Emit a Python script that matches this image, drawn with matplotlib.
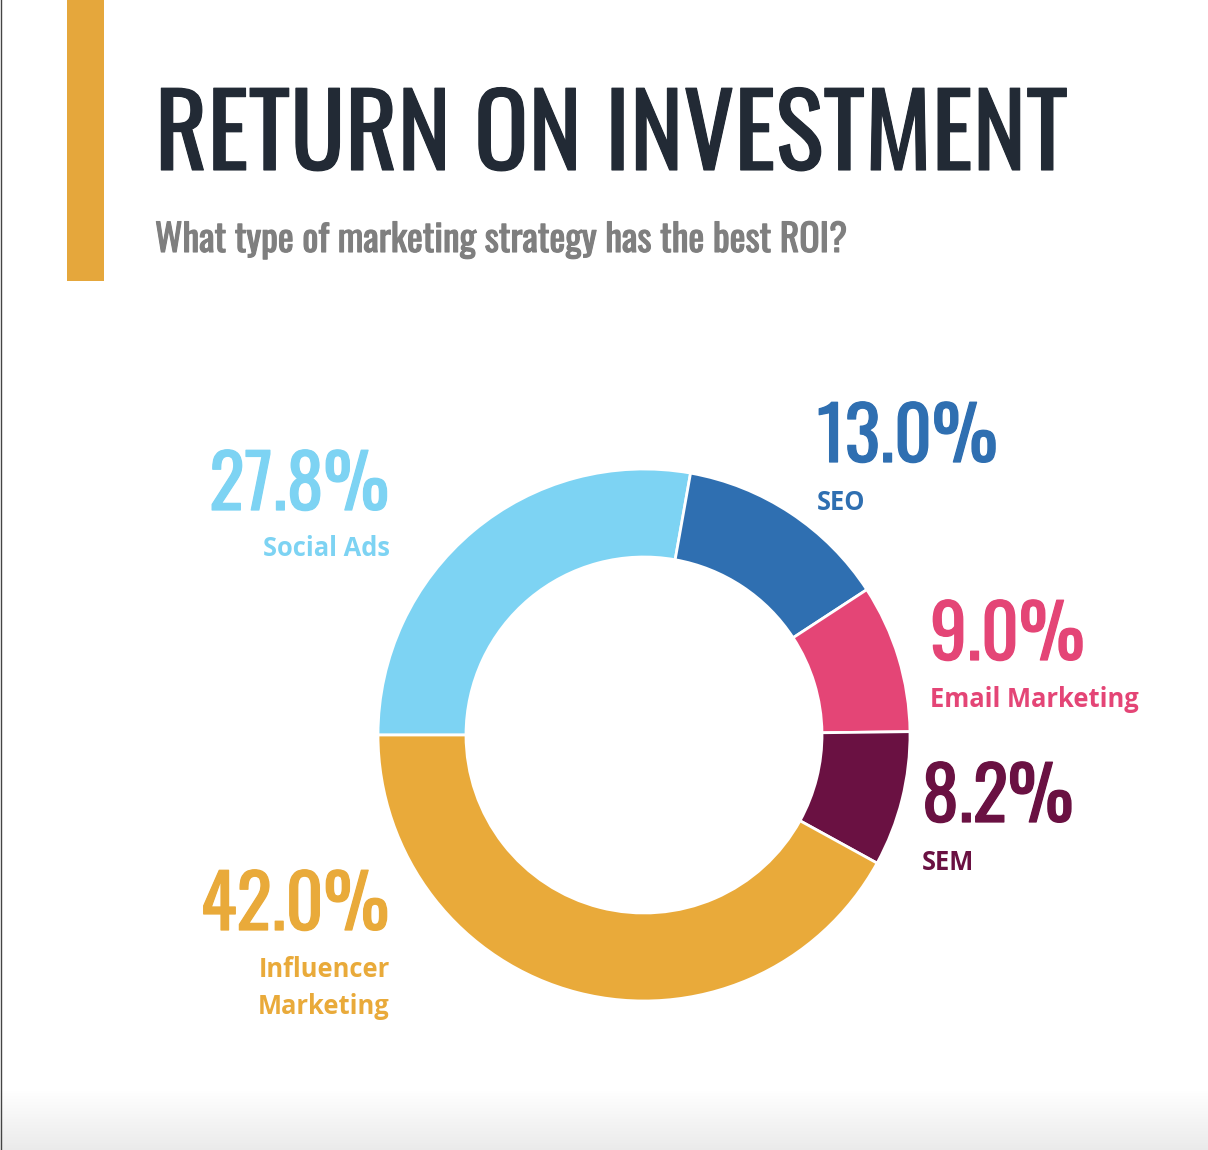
import numpy as np
import matplotlib
matplotlib.use('Agg')
import matplotlib.pyplot as plt
import matplotlib.patheffects as pe
from matplotlib import font_manager

# data
categories = ['Social Ads', 'SEO', 'Email Marketing', 'SEM', 'Influencer Marketing']
shares = [27.8, 13.0, 9.0, 8.2, 42.0]
colors = ['#7dd3f3', '#2f6fb1', '#e44576', '#6a1142', '#e9aa3a']
pct_labels = ['27.8%', '13.0%', '9.0%', '8.2%', '42.0%']
name_labels = ['Social Ads', 'SEO', 'Email Marketing', 'SEM', 'Influencer\nMarketing']

W, H = 1208, 1150
DPI = 100

# pick fonts that exist here
installed = {f.name for f in font_manager.fontManager.ttflist}
def first_font(cands):
    for c in cands:
        if c in installed:
            return c
    return 'DejaVu Sans'

narrow = first_font(['Oswald', 'Roboto Condensed', 'Liberation Sans Narrow',
                     'Open Sans Condensed', 'DejaVu Sans'])
labfont = first_font(['Open Sans', 'Lato', 'DejaVu Sans'])

def thicken(c, lw):
    # oswald here is a touch light, fatten the strokes a little
    return [pe.withStroke(linewidth=lw, foreground=c)]

fig = plt.figure(figsize=(W / DPI, H / DPI), dpi=DPI)
fig.patch.set_facecolor('white')

# overlay in pixel coords, y down
ov = fig.add_axes([0, 0, 1, 1])
ov.set_xlim(0, W)
ov.set_ylim(H, 0)
ov.axis('off')

# bottom grey fade
grad = np.linspace(1.0, 0.92, 60).reshape(-1, 1)
ov.imshow(np.dstack([grad, grad, grad]), extent=[0, W, H, H - 60],
          aspect='auto', zorder=0)
ov.set_xlim(0, W)
ov.set_ylim(H, 0)

# left border + orange bar
ov.plot([0.5, 0.5], [0, H], color='#444444', lw=1.0, zorder=1)
ov.add_patch(plt.Rectangle((67, 0), 37, 281, color='#e5a73c', lw=0, zorder=1))

renderer = fig.canvas.get_renderer()

def px(v):
    return v * 72.0 / DPI

def fit_text(x, y, s, width_px, size_px, **kw):
    t = ov.text(x, y, s, fontsize=px(size_px), **kw)
    w = t.get_window_extent(renderer=renderer).width
    t.set_fontsize(px(size_px) * width_px / w)
    return t

# title + subtitle
fit_text(155, 170, 'RETURN ON INVESTMENT', 912, 110, family=narrow,
         color='#222a35', va='baseline', ha='left',
         path_effects=thicken('#222a35', 0.8))
fit_text(155, 252, 'What type of marketing strategy has the best ROI?', 692, 40,
         family=narrow, color='#7f7f7f', va='baseline', ha='left',
         path_effects=thicken('#7f7f7f', 0.8))

# donut
cx, cy, R = 644, 735, 266
pie_ax = fig.add_axes([(cx - R) / W, (H - cy - R) / H, 2 * R / W, 2 * R / H])
pie_ax.pie(shares, colors=colors, startangle=180, counterclock=False,
           radius=1.0, wedgeprops=dict(width=88 / R, edgecolor='white', linewidth=2))
pie_ax.set_xlim(-1.0, 1.0)
pie_ax.set_ylim(-1.0, 1.0)
pie_ax.set_aspect('equal')
pie_ax.axis('off')

# labels: (x, baseline of pct, baseline of name, ha)
spots = [
    (389, 510, 556, 'right'),
    (817, 462, 510, 'left'),
    (930, 660, 707, 'left'),
    (922, 822, 870, 'left'),
    (389, 930, 977, 'right'),
]

# size the big numbers from one reference width, then reuse
probe = ov.text(0, 0, '27.8%', fontsize=px(80), family=narrow)
pct_size = px(80) * 180 / probe.get_window_extent(renderer=renderer).width
probe.remove()
probe = ov.text(0, 0, 'Email Marketing', fontsize=px(28), family=labfont, weight='bold')
lab_size = px(28) * 208 / probe.get_window_extent(renderer=renderer).width
probe.remove()

for (x, yb, yl, ha), p, n, c in zip(spots, pct_labels, name_labels, colors):
    ov.text(x, yb, p, fontsize=pct_size, family=narrow, color=c,
            ha=ha, va='baseline', path_effects=thicken(c, 0.9))
    for k, line in enumerate(n.split('\n')):
        ov.text(x + (1 if ha == 'right' else 0), yl + 37 * k, line,
                fontsize=lab_size, family=labfont,
                weight='bold', color=c, ha=ha, va='baseline')

fig.savefig('out.png', dpi=DPI, facecolor='white')
